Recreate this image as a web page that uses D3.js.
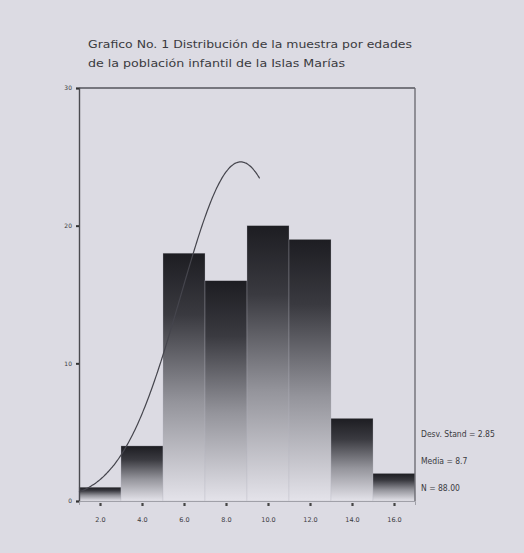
<!DOCTYPE html>
<html>
<head>
<meta charset="utf-8">
<script src="https://cdn.jsdelivr.net/npm/d3@7"></script>
<style>
  html, body { margin: 0; padding: 0; background: #dcdbe3; }
  svg { display: block; }
  text { fill: #3a3a40; }
</style>
</head>
<body>
<svg id="chart" width="524" height="553"></svg>
<script>
// Age histogram of the child population sample (bins of 2 years)
const binCenters = [2, 4, 6, 8, 10, 12, 14, 16];
const counts = [1, 4, 18, 16, 20, 19, 6, 2];
const xTickLabels = ["2.0", "4.0", "6.0", "8.0", "10.0", "12.0", "14.0", "16.0"];
const yTickValues = [0, 10, 20, 30];
const titleLines = [
  "Grafico No. 1 Distribución de la muestra por edades",
  "de la población infantil de la Islas Marías"
];
const statsLines = ["Desv. Stand = 2.85", "Media = 8.7", "N = 88.00"];
const stdDev = 2.85, mean = 8.7, nTotal = 88, binWidth = 2;

const svg = d3.select("#chart");
const plotLeft = 79, plotRight = 415, plotTop = 88, plotBottom = 501;

const x = d3.scaleLinear().domain([1, 17]).range([plotLeft, plotRight]);
const y = d3.scaleLinear().domain([0, 30]).range([plotBottom, plotTop]);

// vertical shading of each bar: dark top fading to light bottom
const defs = svg.append("defs");
const grad = defs.append("linearGradient")
  .attr("id", "barShade").attr("x1", 0).attr("y1", 0).attr("x2", 0).attr("y2", 1);
grad.append("stop").attr("offset", "0%").attr("stop-color", "#1d1d22");
grad.append("stop").attr("offset", "25%").attr("stop-color", "#3a3a40");
grad.append("stop").attr("offset", "60%").attr("stop-color", "#94949b");
grad.append("stop").attr("offset", "100%").attr("stop-color", "#e4e3ea");

// title
svg.append("g").selectAll("text").data(titleLines).join("text")
  .attr("x", 88).attr("y", (d, i) => 48 + i * 19)
  .attr("font-family", "'DejaVu Sans Condensed', 'Liberation Sans Narrow', sans-serif")
  .attr("font-size", 11)
  .attr("fill", "#4a4a52")
  .attr("textLength", (d, i) => i === 0 ? 324 : 257)
  .attr("lengthAdjust", "spacingAndGlyphs")
  .text(d => d);

// bars
svg.append("g").selectAll("rect").data(binCenters).join("rect")
  .attr("x", d => x(d - binWidth / 2))
  .attr("width", d => x(d + binWidth / 2) - x(d - binWidth / 2))
  .attr("y", (d, i) => y(counts[i]))
  .attr("height", (d, i) => y(0) - y(counts[i]))
  .attr("fill", "url(#barShade)")
  .attr("stroke", "#b8b8c0").attr("stroke-width", 0.5).attr("stroke-opacity", 0.6);

// frame: top and right edges
svg.append("line").attr("x1", plotLeft).attr("x2", plotRight).attr("y1", plotTop).attr("y2", plotTop)
  .attr("stroke", "#55555c").attr("stroke-width", 1.6);
svg.append("line").attr("x1", plotRight).attr("x2", plotRight).attr("y1", plotTop).attr("y2", plotBottom)
  .attr("stroke", "#66666d").attr("stroke-width", 1.3);

// y axis
const yAxis = svg.append("g").attr("transform", `translate(${plotLeft},0)`)
  .call(d3.axisLeft(y).tickValues(yTickValues).tickSize(3).tickPadding(4).tickFormat(d3.format("d")));
yAxis.select(".domain").attr("stroke", "#4a4a50").attr("stroke-width", 1.4);
yAxis.selectAll(".tick line").attr("stroke", "#333").attr("stroke-width", 2);
yAxis.selectAll(".tick text").attr("font-family", "'DejaVu Sans', sans-serif")
  .attr("font-size", 6).attr("fill", "#55555c");

// x axis
const xAxis = svg.append("g").attr("transform", `translate(0,${plotBottom})`)
  .call(d3.axisBottom(x).tickValues(binCenters).tickSize(4).tickPadding(12)
    .tickFormat((d, i) => xTickLabels[i]));
xAxis.select(".domain").attr("stroke", "#a0a0a8").attr("stroke-width", 1);
xAxis.selectAll(".tick line").attr("stroke", "#444").attr("stroke-width", 2.2)
  .attr("y1", 2).attr("y2", 5);
xAxis.selectAll(".tick text").attr("font-family", "'DejaVu Sans', sans-serif")
  .attr("font-size", 6.5).attr("fill", "#6a6a72");

// normal curve fitted to the sample
const normal = v => nTotal * binWidth / (stdDev * Math.sqrt(2 * Math.PI)) *
  Math.exp(-0.5 * Math.pow((v - mean) / stdDev, 2));
const curveXs = d3.range(1, 9.62, 0.05);
svg.append("path")
  .datum(curveXs)
  .attr("fill", "none").attr("stroke", "#45454d").attr("stroke-width", 1.2)
  .attr("d", d3.line().x(d => x(d)).y(d => y(normal(d))).curve(d3.curveBasis));

// summary statistics
svg.append("g").selectAll("text").data(statsLines).join("text")
  .attr("x", 421).attr("y", (d, i) => 437 + i * 27)
  .attr("font-family", "'DejaVu Sans Condensed', 'Liberation Sans Narrow', sans-serif")
  .attr("font-size", 8.5).attr("fill", "#55555c")
  .text(d => d);
</script>
</body>
</html>
